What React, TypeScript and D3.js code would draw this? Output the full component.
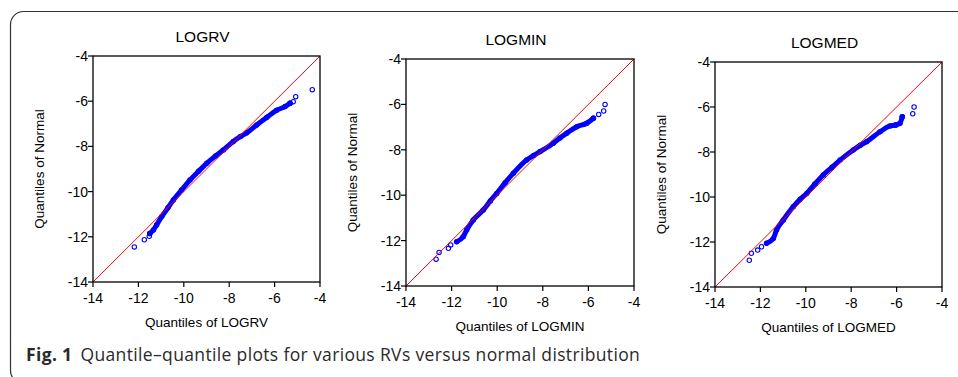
import React from 'react';
import * as d3 from 'd3';

// Series shown, one per panel
const seriesNames = ['LOGRV', 'LOGMIN', 'LOGMED'];
const tickValues = [-14, -12, -10, -8, -6, -4];

// [quantile of series, quantile of normal]
const logrvTail = [[-12.18, -12.45], [-11.74, -12.13], [-11.52, -11.98], [-11.5, -11.85], [-5.07, -5.8], [-5.18, -6.02], [-5.32, -6.09], [-4.34, -5.49]];
const logrvBand = [[-11.5, -11.85], [-11.34, -11.7], [-11.2, -11.48], [-10.97, -11.1], [-10.7, -10.72], [-10.46, -10.37], [-10.1, -9.93], [-9.73, -9.49], [-9.35, -9.1], [-8.99, -8.75], [-8.6, -8.42], [-8.26, -8.16], [-7.82, -7.78], [-7.5, -7.56], [-7.23, -7.4], [-6.79, -7.05], [-6.35, -6.72], [-5.91, -6.4], [-5.54, -6.24], [-5.32, -6.09]];

const logminTail = [[-12.68, -12.82], [-12.55, -12.52], [-12.14, -12.34], [-12.04, -12.19], [-5.55, -6.44], [-5.33, -6.29], [-5.27, -6.0], [-5.78, -6.61]];
const logminBand = [[-11.78, -12.05], [-11.49, -11.83], [-11.34, -11.53], [-11.05, -11.09], [-10.61, -10.65], [-10.3, -10.25], [-10.02, -9.92], [-9.65, -9.45], [-9.29, -9.03], [-8.71, -8.45], [-8.4, -8.25], [-8.12, -8.08], [-7.54, -7.71], [-7.25, -7.48], [-6.95, -7.27], [-6.51, -6.98], [-6.07, -6.83], [-5.78, -6.61]];

const logmedTail = [[-12.49, -12.81], [-12.4, -12.5], [-12.12, -12.36], [-11.95, -12.21], [-5.75, -6.43], [-5.29, -6.3], [-5.23, -6.0], [-6.04, -6.8]];
const logmedBand = [[-11.73, -12.06], [-11.43, -11.84], [-11.29, -11.47], [-10.99, -11.02], [-10.55, -10.43], [-10.25, -10.1], [-9.96, -9.84], [-9.6, -9.42], [-9.23, -9.02], [-8.85, -8.68], [-8.49, -8.36], [-7.91, -7.91], [-7.6, -7.7], [-7.32, -7.54], [-6.73, -7.1], [-6.29, -6.84], [-6.04, -6.8], [-5.85, -6.72], [-5.75, -6.43]];

const bands = [logrvBand, logminBand, logmedBand];
const tails = [logrvTail, logminTail, logmedTail];

// plot box of each panel
const boxes = [
  { x0: 93, x1: 320, y0: 56, y1: 282 },
  { x0: 406, x1: 634, y0: 59, y1: 286 },
  { x0: 715, x1: 942, y0: 62, y1: 287 },
];

const axisFont = '"Liberation Sans", Arial, sans-serif';
const blue = '#0000ff';

function Panel({ i }: { i: number }) {
  const b = boxes[i];
  const x = d3.scaleLinear().domain([-14, -4]).range([b.x0, b.x1]);
  const y = d3.scaleLinear().domain([-14, -4]).range([b.y1, b.y0]);
  const line = d3.line<number[]>().x(d => x(d[0])).y(d => y(d[1])).curve(d3.curveMonotoneX);
  const pts = bands[i].concat(tails[i]);
  const cx = (b.x0 + b.x1) / 2;
  const cy = (b.y0 + b.y1) / 2;
  const name = seriesNames[i];

  return (
    <g fontFamily={axisFont} fill="#000">
      <text x={cx - 4} y={b.y0 - 14} textAnchor="middle" fontSize={15.5}>{name}</text>
      {/* dense body of points */}
      <path d={line(bands[i]) || ''} fill="none" stroke={blue} strokeWidth={5} strokeLinecap="round" />
      {pts.map((d, k) => (
        <circle key={k} cx={x(d[0])} cy={y(d[1])} r={2.2} fill="none" stroke={blue} strokeWidth={1.1} />
      ))}
      {/* diagonal reference line, drawn over the points */}
      <line x1={x(-14)} y1={y(-14)} x2={x(-4)} y2={y(-4)} stroke="#ff0000" strokeWidth={1} />
      <rect x={b.x0} y={b.y0} width={b.x1 - b.x0} height={b.y1 - b.y0} fill="none" stroke="#000" strokeWidth={1.3} />
      {tickValues.map(t => (
        <g key={'x' + t}>
          <line x1={x(t)} x2={x(t)} y1={b.y1} y2={b.y1 + 5} stroke="#000" strokeWidth={1.2} />
          <text x={x(t)} y={b.y1 + 21} textAnchor="middle" fontSize={14}>{t}</text>
        </g>
      ))}
      {tickValues.map(t => (
        <g key={'y' + t}>
          <line x1={b.x0 - 5} x2={b.x0} y1={y(t)} y2={y(t)} stroke="#000" strokeWidth={1.2} />
          <text x={b.x0 - 5} y={y(t) + 5} textAnchor="end" fontSize={14}>{t}</text>
        </g>
      ))}
      <text x={cx} y={b.y1 + 45} textAnchor="middle" fontSize={13.5}>{'Quantiles of ' + name}</text>
      <text transform={`translate(${b.x0 - 49},${cy}) rotate(-90)`} textAnchor="middle" fontSize={13.5}>Quantiles of Normal</text>
    </g>
  );
}

export default function App() {
  return (
    <svg width={958} height={377} style={{ position: 'absolute', left: 0, top: 0, background: '#fff' }}>
      <rect x={10.5} y={11.5} width={1000} height={372} rx={13} fill="none" stroke="#333" strokeWidth={1.2} />
      {seriesNames.map((s, i) => <Panel key={s} i={i} />)}
      <text x={26} y={361} fontFamily='"Open Sans", "Noto Sans", sans-serif' fontSize={17.5} letterSpacing={0.35} fill="#2a2a2a">
        <tspan fontWeight="bold">Fig. 1</tspan>
        <tspan dx={8}>Quantile–quantile plots for various RVs versus normal distribution</tspan>
      </text>
    </svg>
  );
}
